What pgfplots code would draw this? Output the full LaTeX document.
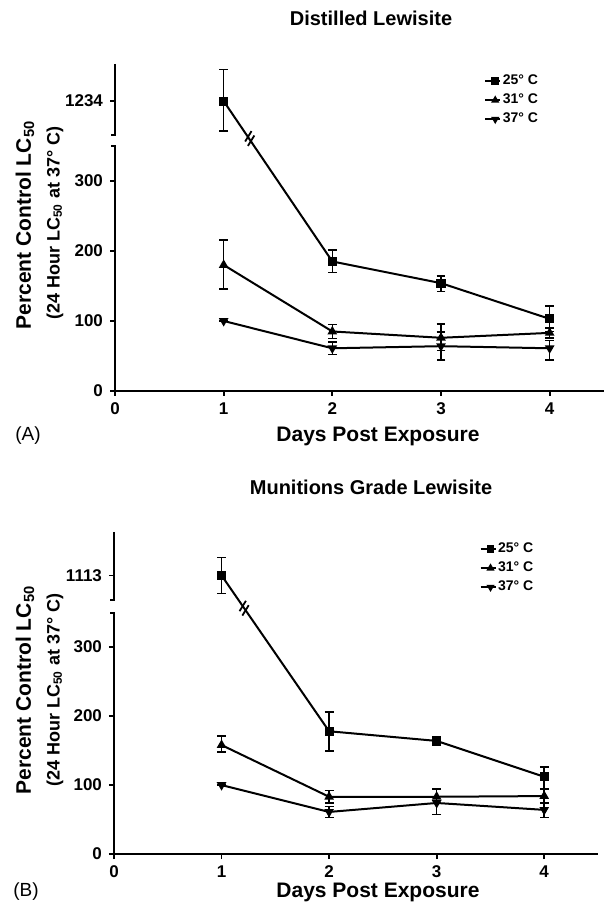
\documentclass[border=0pt]{standalone}
\usepackage{fontspec}
\setmainfont{Liberation Sans}
\usepackage{pgfplots}
\usepackage{pgfplotstable}
\pgfplotsset{compat=1.18}

% day, value, error plus, error minus
\pgfplotstableread{
day y ep em
1 1234 45 43
2 185 16 16
3 154 10 12
4 103 18 18
}\distA
\pgfplotstableread{
day y ep em
1 180 36 34
2 85 10 10
3 76 20 18
4 83 7 7
}\distB
\pgfplotstableread{
day y ep em
1 100 0 0
2 61 9 9
3 64 20 20
4 61 11 17
}\distC
\pgfplotstableread{
day y ep em
1 1113 26 26
2 178 28 29
3 164 6 6
4 112 14 18
}\munA
\pgfplotstableread{
day y ep em
1 158 13 10
2 83 9 9
3 83 11 10
4 84 10 10
}\munB
\pgfplotstableread{
day y ep em
1 100 0 0
2 61 8 8
3 74 20 17
4 64 10 11
}\munC

\pgfplotsset{
  panel/.style={
    scale only axis,
    xmin=0, xmax=4.5, ymin=0, ymax=467,
    axis x line*=bottom, axis y line*=left,
    y axis line style={draw=none},
    x axis line style={line width=1pt},
    xtick={0,1,2,3,4}, xticklabels={0,1,2,3,4},
    tick align=outside, major tick length=2.5pt,
    tick style={line width=0.9pt, black},
    ticklabel style={font=\fontsize{8.5}{9}\selectfont\bfseries},
    /pgf/number format/assume math mode=true,
    clip=false,
    legend style={draw=none, fill=none, at={(0.742,0.985)}, anchor=north west,
      font=\fontsize{7}{7.5}\selectfont\bfseries, row sep=1.5pt,
      nodes={inner sep=0.8pt}},
    legend cell align=left,
    legend image code/.code={\draw[mark repeat=2,mark phase=2,mark size=1.4pt]
      plot coordinates {(0pt,0pt) (5pt,0pt) (7.5pt,0pt)};},
  },
  ser/.style={black, line width=1pt, mark size=1.8pt,
    error bars/y dir=both, error bars/y explicit,
    error bars/error bar style={line width=0.8pt},
    error bars/error mark options={rotate=90, line width=0.8pt, mark size=2.2pt}},
}

\begin{document}
\begin{tikzpicture}
\useasboundingbox (0,0) rectangle (304.5pt,453pt);

% (A) Distilled Lewisite
\begin{axis}[panel, at={(57.5pt,257.5pt)}, anchor=south west,
  width=244.5pt, height=163.5pt,
  y coord trafo/.code={\pgfmathparse{#1>700 ? #1-820 : #1}},
  y coord inv trafo/.code={\pgfmathparse{#1>360 ? #1+820 : #1}},
  ytick={0,100,200,300,1234}, yticklabels={0,100,200,300,1234}]
\addplot[ser, mark=square*] table[x=day, y=y, y error plus=ep, y error minus=em] {\distA};
\addplot[ser, mark=triangle*] table[x=day, y=y, y error plus=ep, y error minus=em] {\distB};
\addplot[ser, mark=triangle*, mark options={rotate=180}] table[x=day, y=y, y error plus=ep, y error minus=em] {\distC};
\legend{25° C, 31° C, 37° C}
\draw[line width=1pt] (axis cs:0,0) -- (axis cs:0,350) -- ++(-2pt,0pt);
\draw[line width=1pt] (axis cs:0,1287) -- (axis cs:0,1186) -- ++(-2pt,0pt);
\draw[line width=0.9pt, shift={(axis cs:1.24,360.6)}]
  (-2.3pt,-1.5pt) -- (0.9pt,3.7pt) (-0.9pt,-3.7pt) -- (2.3pt,1.5pt);
\end{axis}

% (B) Munitions Grade Lewisite
\begin{axis}[panel, at={(57pt,26pt)}, anchor=south west,
  width=242pt, height=161pt,
  y coord trafo/.code={\pgfmathparse{#1>700 ? #1-709 : #1}},
  y coord inv trafo/.code={\pgfmathparse{#1>360 ? #1+709 : #1}},
  ytick={0,100,200,300,1113}, yticklabels={0,100,200,300,1113}]
\addplot[ser, mark=square*] table[x=day, y=y, y error plus=ep, y error minus=em] {\munA};
\addplot[ser, mark=triangle*] table[x=day, y=y, y error plus=ep, y error minus=em] {\munB};
\addplot[ser, mark=triangle*, mark options={rotate=180}] table[x=day, y=y, y error plus=ep, y error minus=em] {\munC};
\legend{25° C, 31° C, 37° C}
\draw[line width=1pt] (axis cs:0,0) -- (axis cs:0,350) -- ++(-2pt,0pt);
\draw[line width=1pt] (axis cs:0,1176) -- (axis cs:0,1077) -- ++(-2pt,0pt);
\draw[line width=0.9pt, shift={(axis cs:1.21,356.5)}]
  (-2.3pt,-1.5pt) -- (0.9pt,3.7pt) (-0.9pt,-3.7pt) -- (2.3pt,1.5pt);
\end{axis}

% titles and labels
\node[font=\fontsize{10}{12}\selectfont\bfseries] at (185.5pt,444pt) {Distilled Lewisite};
\node[font=\fontsize{10}{12}\selectfont\bfseries] at (185.5pt,209.5pt) {Munitions Grade Lewisite};
\node[font=\fontsize{10.5}{12}\selectfont\bfseries] at (189pt,235pt) {Days Post Exposure};
\node[font=\fontsize{10.5}{12}\selectfont\bfseries] at (189pt,7pt) {Days Post Exposure};
\node[font=\fontsize{9.5}{11}\selectfont] at (14pt,235pt) {(A)};
\node[font=\fontsize{9.5}{11}\selectfont] at (13pt,7pt) {(B)};
\node[rotate=90, font=\fontsize{10.5}{12}\selectfont\bfseries] at (12.5pt,340.5pt) {Percent Control LC\textsubscript{50}};
\node[rotate=90, font=\fontsize{9}{11}\selectfont\bfseries] at (27.5pt,341.5pt) {(24 Hour LC\textsubscript{50} at 37° C)};
\node[rotate=90, font=\fontsize{10.5}{12}\selectfont\bfseries] at (12.5pt,108pt) {Percent Control LC\textsubscript{50}};
\node[rotate=90, font=\fontsize{9}{11}\selectfont\bfseries] at (27.5pt,108pt) {(24 Hour LC\textsubscript{50} at 37° C)};
\end{tikzpicture}
\end{document}
